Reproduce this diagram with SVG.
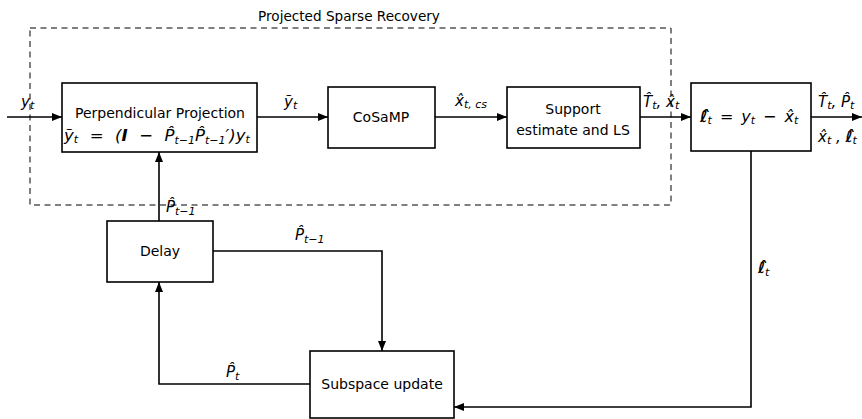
<svg xmlns="http://www.w3.org/2000/svg" width="862" height="419" viewBox="0 0 862 419">
<style>
.box{fill:#fff;stroke:#000;stroke-width:1.6}
.ln{fill:none;stroke:#000;stroke-width:1.6}
.dash{fill:none;stroke:#000;stroke-width:1;stroke-dasharray:6 4.5}
text{font-family:"DejaVu Sans",sans-serif;font-size:14px;fill:#000}
.m{font-style:italic;font-size:15px}
.s{font-size:11px}
.c{text-anchor:middle}
</style>
<defs>
<marker id="ah" viewBox="0 0 10 8" refX="10" refY="4" markerWidth="10" markerHeight="8" markerUnits="userSpaceOnUse" orient="auto">
<path d="M0,0 L10,4 L0,8 Z" fill="#000"/>
</marker>
</defs>
<g id="region">
<rect class="dash" x="30" y="28" width="641" height="177"/>
<text class="c" x="349" y="21" style="font-size:13.6px">Projected Sparse Recovery</text>
</g>
<g id="connectors">
<line class="ln" x1="7" y1="117" x2="62" y2="117" marker-end="url(#ah)"/>
<line class="ln" x1="257" y1="117" x2="328" y2="117" marker-end="url(#ah)"/>
<line class="ln" x1="435" y1="117" x2="507" y2="117" marker-end="url(#ah)"/>
<line class="ln" x1="640" y1="117" x2="691" y2="117" marker-end="url(#ah)"/>
<line class="ln" x1="811" y1="117" x2="862" y2="117" marker-end="url(#ah)"/>
<line class="ln" x1="159" y1="221" x2="159" y2="152" marker-end="url(#ah)"/>
<polyline class="ln" points="213,251 382,251 382,351" marker-end="url(#ah)"/>
<polyline class="ln" points="310,384 159,384 159,282" marker-end="url(#ah)"/>
<polyline class="ln" points="751,151 751,407 454,407" marker-end="url(#ah)"/>
<text class="m" x="21" y="107">y<tspan class="s" dy="2">t</tspan></text>
<text class="m" x="284" y="107">ỹ<tspan class="s" dy="2">t</tspan></text>
<text class="m" x="455" y="106">x̂<tspan class="s" dy="2">t, cs</tspan></text>
<text class="m" x="643" y="107">T̂<tspan class="s" dy="2">t</tspan><tspan dy="-2">, x̂</tspan><tspan class="s" dy="2">t</tspan></text>
<text class="m" x="818" y="107">T̂<tspan class="s" dy="2">t</tspan><tspan dy="-2">, P̂</tspan><tspan class="s" dy="2">t</tspan></text>
<text class="m" x="818" y="142">x̂<tspan class="s" dy="2">t</tspan><tspan dy="-2"> , </tspan><tspan font-weight="bold">ℓ̂</tspan><tspan class="s" dy="2">t</tspan></text>
<text class="m" x="166" y="212">P̂<tspan class="s" dy="3">t−1</tspan></text>
<text class="m" x="295" y="240">P̂<tspan class="s" dy="3">t−1</tspan></text>
<text class="m" x="226" y="377">P̂<tspan class="s" dy="3">t</tspan></text>
<text class="m" x="758" y="273"><tspan font-weight="bold">ℓ̂</tspan><tspan class="s" dy="3">t</tspan></text>
</g>
<g id="perp">
<rect class="box" x="62" y="83" width="195" height="69"/>
<text class="c" x="160" y="118">Perpendicular Projection</text>
<text class="m" x="64" y="141" style="font-size:16.5px">ỹ<tspan class="s" dy="2">t</tspan><tspan dy="-2">&#8194;&#8201;=&#8194;&#8201;(</tspan><tspan font-weight="bold">I</tspan><tspan>&#8194;&#8201;−&#8194;&#8201;P̂</tspan><tspan class="s" dy="3">t−1</tspan><tspan dy="-3">P̂</tspan><tspan class="s" dy="3">t−1</tspan><tspan dy="-3">′)y</tspan><tspan class="s" dy="2">t</tspan></text>
</g>
<g id="cosamp">
<rect class="box" x="328" y="87" width="107" height="61"/>
<text class="c" x="381" y="122">CoSaMP</text>
</g>
<g id="support">
<rect class="box" x="507" y="87" width="133" height="61"/>
<text class="c" x="573" y="114">Support</text>
<text class="c" x="573" y="135">estimate and LS</text>
</g>
<g id="lbox">
<rect class="box" x="691" y="83" width="120" height="68"/>
<text class="m" x="700" y="122" style="font-size:16px"><tspan font-weight="bold">ℓ̂</tspan><tspan class="s" dy="2">t</tspan><tspan dy="-2">&#8194;=&#8194;y</tspan><tspan class="s" dy="2">t</tspan><tspan dy="-2">&#8194;−&#8194;x̂</tspan><tspan class="s" dy="2">t</tspan></text>
</g>
<g id="delay">
<rect class="box" x="107" y="221" width="106" height="61"/>
<text class="c" x="160" y="256">Delay</text>
</g>
<g id="subspace">
<rect class="box" x="310" y="351" width="144" height="67"/>
<text class="c" x="382" y="389">Subspace update</text>
</g>
</svg>
